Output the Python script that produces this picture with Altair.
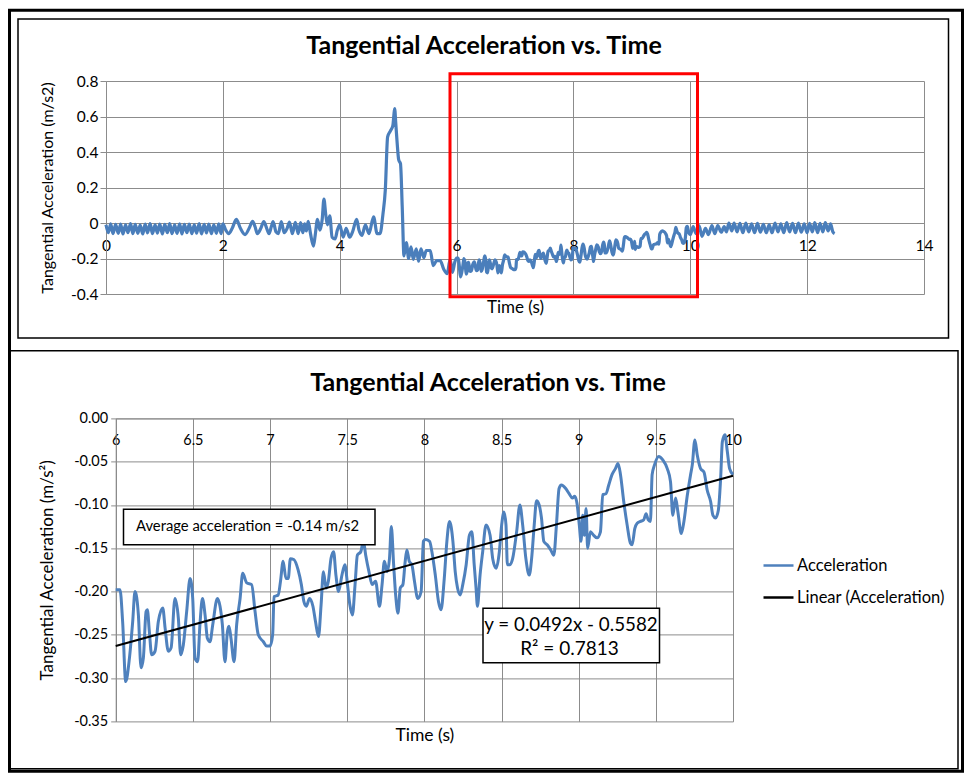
import altair as alt
import pandas as pd

# ---------------- data ----------------
pre_time = [0.00, 0.04, 0.08, 0.12, 0.165, 0.21, 0.25, 0.29, 0.335, 0.375, 0.42, 0.46, 0.50, 0.545,
            0.585, 0.63, 0.67, 0.71, 0.755, 0.795, 0.84, 0.88, 0.92, 0.965, 1.005, 1.05, 1.09, 1.13,
            1.175, 1.215, 1.26, 1.30, 1.34, 1.385, 1.425, 1.47, 1.51, 1.55, 1.595, 1.635, 1.68, 1.72,
            1.76, 1.805, 1.845, 1.89, 1.93, 1.97, 2.00, 2.05, 2.10, 2.16, 2.23, 2.30, 2.38, 2.45, 2.51,
            2.55, 2.59, 2.65, 2.70, 2.75, 2.79, 2.83, 2.86, 2.91, 2.95, 3.00, 3.05, 3.10, 3.14, 3.19,
            3.24, 3.29, 3.33, 3.37, 3.40, 3.43, 3.46, 3.50, 3.55, 3.58, 3.62, 3.66, 3.70, 3.73, 3.76,
            3.79, 3.83, 3.87, 3.92, 3.96, 4.00, 4.06, 4.11, 4.17, 4.22, 4.29, 4.33, 4.38, 4.44, 4.50,
            4.58, 4.64, 4.69, 4.74, 4.78, 4.82, 4.87, 4.91, 4.925, 4.94, 4.96, 4.98, 5.01, 5.04, 5.07,
            5.10, 5.14, 5.18, 5.22, 5.26, 5.31, 5.35, 5.39, 5.44, 5.48, 5.55, 5.60, 5.66, 5.72, 5.78,
            5.84, 5.89, 5.93, 5.97]
pre_accel = [-0.010, -0.055, -0.005, -0.060, -0.008, -0.058, -0.006, -0.062, -0.010, -0.055, -0.004,
             -0.060, -0.008, -0.058, -0.012, -0.062, -0.006, -0.056, -0.004, -0.060, -0.010, -0.057,
             -0.006, -0.062, -0.008, -0.055, -0.004, -0.060, -0.010, -0.058, -0.005, -0.062, -0.008,
             -0.055, -0.006, -0.060, -0.010, -0.057, -0.004, -0.062, -0.008, -0.056, -0.006, -0.060,
             -0.010, -0.058, -0.005, -0.060, -0.005, -0.040, -0.060, -0.030, 0.020, -0.030, -0.065,
             -0.030, 0.010, -0.020, -0.060, -0.030, 0.008, -0.030, -0.060, -0.020, 0.008, -0.050,
             -0.060, 0.008, -0.055, -0.030, 0.005, -0.060, 0.004, -0.060, 0.002, -0.055, -0.005,
             -0.045, 0.010, -0.060, -0.130, -0.070, 0.020, -0.040, 0.020, 0.135, 0.050, -0.010, 0.040,
             -0.080, -0.090, -0.040, -0.010, -0.080, -0.030, -0.080, -0.050, 0.020, -0.040, -0.070,
             -0.010, -0.060, 0.035, -0.060, -0.060, 0.050, 0.185, 0.485, 0.520, 0.550, 0.600, 0.645,
             0.560, 0.465, 0.355, 0.335, 0.090, -0.185, -0.110, -0.200, -0.135, -0.205, -0.145,
             -0.215, -0.145, -0.195, -0.155, -0.155, -0.240, -0.212, -0.212, -0.260, -0.285, -0.205,
             -0.278, -0.220]

zoom_time = [6.000, 6.028, 6.045, 6.065, 6.089, 6.110, 6.125, 6.147, 6.164, 6.179, 6.197, 6.205,
             6.218, 6.233, 6.255, 6.276, 6.305, 6.320, 6.341, 6.359, 6.384, 6.406, 6.421, 6.438,
             6.460, 6.482, 6.499, 6.514, 6.531, 6.546, 6.562, 6.579, 6.594, 6.611, 6.629, 6.659,
             6.676, 6.691, 6.708, 6.724, 6.734, 6.747, 6.767, 6.784, 6.806, 6.823, 6.849, 6.881,
             6.903, 6.924, 6.957, 6.978,
             7.000, 7.017, 7.026, 7.053, 7.068, 7.085, 7.103, 7.118, 7.132, 7.154, 7.182, 7.203,
             7.220, 7.235, 7.256, 7.278, 7.295, 7.314, 7.331, 7.346, 7.363, 7.378, 7.395, 7.412,
             7.427, 7.444, 7.466, 7.485, 7.502, 7.517, 7.534, 7.551, 7.566, 7.588, 7.605, 7.620,
             7.641, 7.662, 7.684, 7.709, 7.726, 7.741, 7.759, 7.774, 7.786, 7.801, 7.816, 7.829,
             7.844, 7.861, 7.876, 7.887, 7.902, 7.919, 7.936, 7.957, 7.979, 7.994,
             8.006, 8.034, 8.049, 8.071, 8.092, 8.108, 8.129, 8.146, 8.163, 8.185, 8.200, 8.215,
             8.232, 8.249, 8.271, 8.292, 8.308, 8.323, 8.335, 8.344, 8.361, 8.378, 8.400, 8.426,
             8.443, 8.465, 8.486, 8.501, 8.516, 8.529, 8.538, 8.555, 8.572, 8.598, 8.619, 8.637,
             8.658, 8.680, 8.695, 8.712, 8.727, 8.744, 8.759, 8.774, 8.796, 8.819, 8.839, 8.856,
             8.873, 8.888, 8.916, 8.938, 8.959, 8.974, 8.989,
             9.004, 9.015, 9.026, 9.037, 9.048, 9.058, 9.076, 9.097, 9.119, 9.141, 9.156, 9.177,
             9.195, 9.216, 9.238, 9.255, 9.271, 9.292, 9.314, 9.335, 9.346, 9.364, 9.379, 9.400,
             9.422, 9.437, 9.450, 9.465, 9.476, 9.491, 9.519, 9.545, 9.574, 9.595, 9.610, 9.628,
             9.643, 9.665, 9.682, 9.703, 9.725, 9.736, 9.753, 9.768, 9.790, 9.812, 9.833, 9.855,
             9.870, 9.887, 9.905, 9.920, 9.931, 9.948, 9.963, 9.978, 10.000]
zoom_accel = [-0.198, -0.198, -0.235, -0.304, -0.277, -0.235, -0.200, -0.227, -0.288, -0.277,
              -0.223, -0.221, -0.246, -0.273, -0.269, -0.235, -0.219, -0.242, -0.269, -0.265,
              -0.208, -0.231, -0.273, -0.262, -0.223, -0.185, -0.208, -0.277, -0.281, -0.238,
              -0.208, -0.227, -0.254, -0.258, -0.238, -0.208, -0.217, -0.238, -0.281, -0.246,
              -0.240, -0.254, -0.281, -0.238, -0.208, -0.179, -0.190, -0.192, -0.223, -0.250,
              -0.258, -0.263,
              -0.263, -0.250, -0.206, -0.204, -0.188, -0.165, -0.185, -0.185, -0.162, -0.163,
              -0.175, -0.192, -0.212, -0.217, -0.208, -0.217, -0.235, -0.252, -0.215, -0.177,
              -0.196, -0.188, -0.162, -0.154, -0.181, -0.200, -0.181, -0.169, -0.192, -0.215,
              -0.227, -0.192, -0.158, -0.154, -0.142, -0.158, -0.177, -0.192, -0.188, -0.217,
              -0.192, -0.165, -0.177, -0.162, -0.125, -0.169, -0.208, -0.225, -0.196, -0.192,
              -0.165, -0.152, -0.165, -0.169, -0.188, -0.208, -0.200, -0.142,
              -0.140, -0.142, -0.154, -0.181, -0.212, -0.221, -0.185, -0.142, -0.119, -0.142,
              -0.177, -0.196, -0.204, -0.192, -0.169, -0.135, -0.131, -0.169, -0.196, -0.217,
              -0.181, -0.154, -0.123, -0.135, -0.162, -0.173, -0.154, -0.123, -0.108, -0.123,
              -0.169, -0.169, -0.162, -0.131, -0.100, -0.123, -0.162, -0.181, -0.162, -0.123,
              -0.095, -0.100, -0.115, -0.142, -0.146, -0.152, -0.158, -0.123, -0.081, -0.077,
              -0.081, -0.087, -0.092, -0.090, -0.098,
              -0.123, -0.142, -0.112, -0.135, -0.104, -0.150, -0.131, -0.135, -0.138, -0.131,
              -0.088, -0.087, -0.077, -0.065, -0.058, -0.052, -0.065, -0.096, -0.123, -0.144,
              -0.146, -0.127, -0.121, -0.119, -0.117, -0.110, -0.117, -0.119, -0.065, -0.054,
              -0.044, -0.048, -0.058, -0.073, -0.112, -0.092, -0.108, -0.133, -0.119, -0.090,
              -0.065, -0.054, -0.025, -0.042, -0.058, -0.062, -0.083, -0.096, -0.112, -0.115,
              -0.106, -0.069, -0.027, -0.019, -0.038, -0.058, -0.065]

post_time = [10.05, 10.10, 10.15, 10.20, 10.26, 10.31, 10.37, 10.42, 10.47, 10.53, 10.58, 10.62,
             10.66, 10.71, 10.75, 10.80, 10.85, 10.90, 10.95, 11.00, 11.05, 11.10, 11.15, 11.20,
             11.25, 11.30, 11.35, 11.40, 11.45, 11.50, 11.55, 11.60, 11.65, 11.70, 11.75, 11.80,
             11.85, 11.90, 11.95, 12.00, 12.04, 12.09, 12.13, 12.18, 12.22, 12.27, 12.31, 12.36,
             12.40, 12.44, 12.47]
post_accel = [-0.020, -0.060, -0.015, -0.075, -0.030, -0.065, -0.015, -0.060, -0.015, -0.052,
              -0.020, -0.050, 0.000, -0.045, 0.000, -0.050, -0.002, -0.055, 0.000, -0.050, -0.005,
              -0.055, -0.002, -0.052, -0.008, -0.055, -0.010, -0.055, 0.000, -0.050, -0.005, -0.055,
              0.002, -0.050, -0.002, -0.055, 0.000, -0.052, -0.005, -0.055, -0.002, -0.050, 0.002,
              -0.055, -0.002, -0.050, 0.002, -0.045, -0.005, -0.050, -0.060]

top_x_ticks = [0, 2, 4, 6, 8, 10, 12, 14]
top_y_ticks = [-0.4, -0.2, 0.0, 0.2, 0.4, 0.6, 0.8]
bot_x_ticks = [6, 6.5, 7, 7.5, 8, 8.5, 9, 9.5, 10]
bot_y_ticks = [0.0, -0.05, -0.10, -0.15, -0.20, -0.25, -0.30, -0.35]
zoom_window = [6, 10]
trend_slope = 0.0492
trend_intercept = -0.5582
r_squared = 0.7813
avg_accel = -0.14
series_names = ["Acceleration", "Linear (Acceleration)"]
chart_title = "Tangential Acceleration vs. Time"

# ---------------- frames ----------------
top_df = pd.DataFrame({"time": pre_time + zoom_time + post_time,
                       "accel": pre_accel + zoom_accel + post_accel})
zoom_df = pd.DataFrame({"time": zoom_time, "accel": zoom_accel,
                        "series": [series_names[0]] * len(zoom_time)})
trend_df = pd.DataFrame({"time": zoom_window,
                         "accel": [trend_slope * t + trend_intercept for t in zoom_window],
                         "series": [series_names[1]] * len(zoom_window)})
one = pd.DataFrame({"k": [0]})

BLUE = "#4A7EBB"
GRID = "#8C8C8C"
FONT = "Lato"

W1, H1 = 818, 213
W2, H2 = 627, 303
XOFF = 9.7
GAP = 124.4


def box(x, x2, y, y2, stroke="black", sw=1.5, fill=None):
    kw = dict(stroke=stroke, strokeWidth=sw, clip=False)
    if fill:
        kw["fill"] = fill
    else:
        kw["fillOpacity"] = 0
    return alt.Chart(one).mark_rect(**kw).encode(
        x=alt.value(x), x2=alt.value(x2), y=alt.value(y), y2=alt.value(y2))


def label(txt, x, y, size, weight="normal", align="center"):
    return alt.Chart(pd.DataFrame({"t": [txt]})).mark_text(
        font=FONT, fontSize=size, fontWeight=weight, align=align, baseline="middle",
        color="black").encode(x=alt.value(x), y=alt.value(y), text="t:N")


# ---------------- top chart ----------------
top_x = alt.X("time:Q", scale=alt.Scale(domain=[0, 14], nice=False, zero=False),
              axis=alt.Axis(values=top_x_ticks, title="Time (s)", orient="bottom", offset=-71,
                            ticks=False, tickSize=0, labelPadding=15, labelFlush=False,
                            labelFontSize=15.5, titleFontSize=17,
                            labelExpr="format(datum.value, '~g')", titleY=84.7,
                            titleBaseline="middle"))
top_y = alt.Y("accel:Q", scale=alt.Scale(domain=[-0.4, 0.8], nice=False, zero=False),
              axis=alt.Axis(values=top_y_ticks, title="Tangential Acceleration (m/s2)",
                            tickSize=6, labelPadding=2, titleX=-59, titleBaseline="middle",
                            labelFontSize=15.5, titleFontSize=16,
                            labelExpr="datum.value == 0 ? '0' : (datum.value < 0 ? '-' : '') + format(abs(datum.value), '.1f')"))
top_line = alt.Chart(top_df).mark_line(color=BLUE, strokeWidth=3.2, interpolate="monotone").encode(
    x=top_x, y=top_y)

top = alt.layer(
    box(-96.5, 856.5, -70.8, 690.2, sw=3),
    box(-88, 842.5, -62, 257, sw=1.5),
    top_line,
    box(344, 591.5, -7.3, 215.7, stroke="#FF0000", sw=3),
    label(chart_title, 378, -35.3, 25, weight="bold"),
).properties(width=W1, height=H1)

# ---------------- bottom chart ----------------
bot_x = alt.X("time:Q", scale=alt.Scale(domain=zoom_window, range=[XOFF, W2], nice=False, zero=False),
              axis=alt.Axis(values=bot_x_ticks, title="Time (s)", orient="bottom", offset=-H2,
                            ticks=False, tickSize=0, labelPadding=15, labelFlush=False,
                            labelFontSize=14.5, titleFontSize=17.5,
                            labelExpr="format(datum.value, '~g')", titleY=317.3,
                            titleBaseline="middle"))
bot_y = alt.Y("accel:Q", scale=alt.Scale(domain=[-0.35, 0], nice=False, zero=False),
              axis=alt.Axis(values=bot_y_ticks, title="Tangential Acceleration (m/s\u00b2)",
                            offset=-XOFF, tickSize=5, labelPadding=3, titleX=-68.7,
                            titleBaseline="middle", labelFontSize=14.5, titleFontSize=17,
                            labelExpr="(datum.value < -0.0001 ? '-' : '') + format(abs(datum.value), '.2f')"))

color_scale = alt.Scale(domain=series_names, range=["#4F81BD", "black"])
zoom_line = alt.Chart(zoom_df).mark_line(strokeWidth=3, interpolate="monotone").encode(
    x=bot_x, y=bot_y,
    color=alt.Color("series:N", scale=color_scale,
                    legend=alt.Legend(title=None, orient="none", legendX=656, legendY=468,
                                      symbolType="stroke", symbolSize=900,
                                      symbolStrokeWidth=2.5, labelFont=FONT,
                                      labelFontSize=16.5, labelColor="black",
                                      rowPadding=7, labelOffset=2)))
trend_line = alt.Chart(trend_df).mark_line(strokeWidth=2).encode(
    x="time:Q", y="accel:Q", color=alt.Color("series:N", scale=color_scale))

eq_text = f"y = {trend_slope}x - {abs(trend_intercept)}"
r2_text = f"R\u00b2 = {r_squared}"
avg_text = f"Average acceleration = {avg_accel:.2f} m/s2"

bottom = alt.layer(
    box(-96, 852, -67.7, 350.3, sw=1.5),
    zoom_line,
    trend_line,
    box(17.5, 269, 90.8, 126.3, sw=1.5, fill="white"),
    label(avg_text, 30, 108.6, 14.8, align="left"),
    box(377, 553.5, 189.8, 244.3, sw=1.5, fill="white"),
    label(eq_text, 465, 206.3, 18.8),
    label(r2_text, 463.5, 230.6, 19),
    label(chart_title, 382, -35.7, 25, weight="bold"),
).properties(width=W2, height=H2)

chart = alt.vconcat(top, bottom, spacing=GAP, bounds="flush").properties(
    padding=0, background="white"
).configure_view(strokeWidth=0).configure_axis(
    grid=True, gridColor=GRID, gridWidth=1, domainColor=GRID, domainWidth=1,
    tickColor=GRID, labelFont=FONT, labelColor="black",
    titleFont=FONT, titleFontWeight="normal", titleColor="black"
)

chart.save("out.html", embed_options={"renderer": "svg", "actions": False})
